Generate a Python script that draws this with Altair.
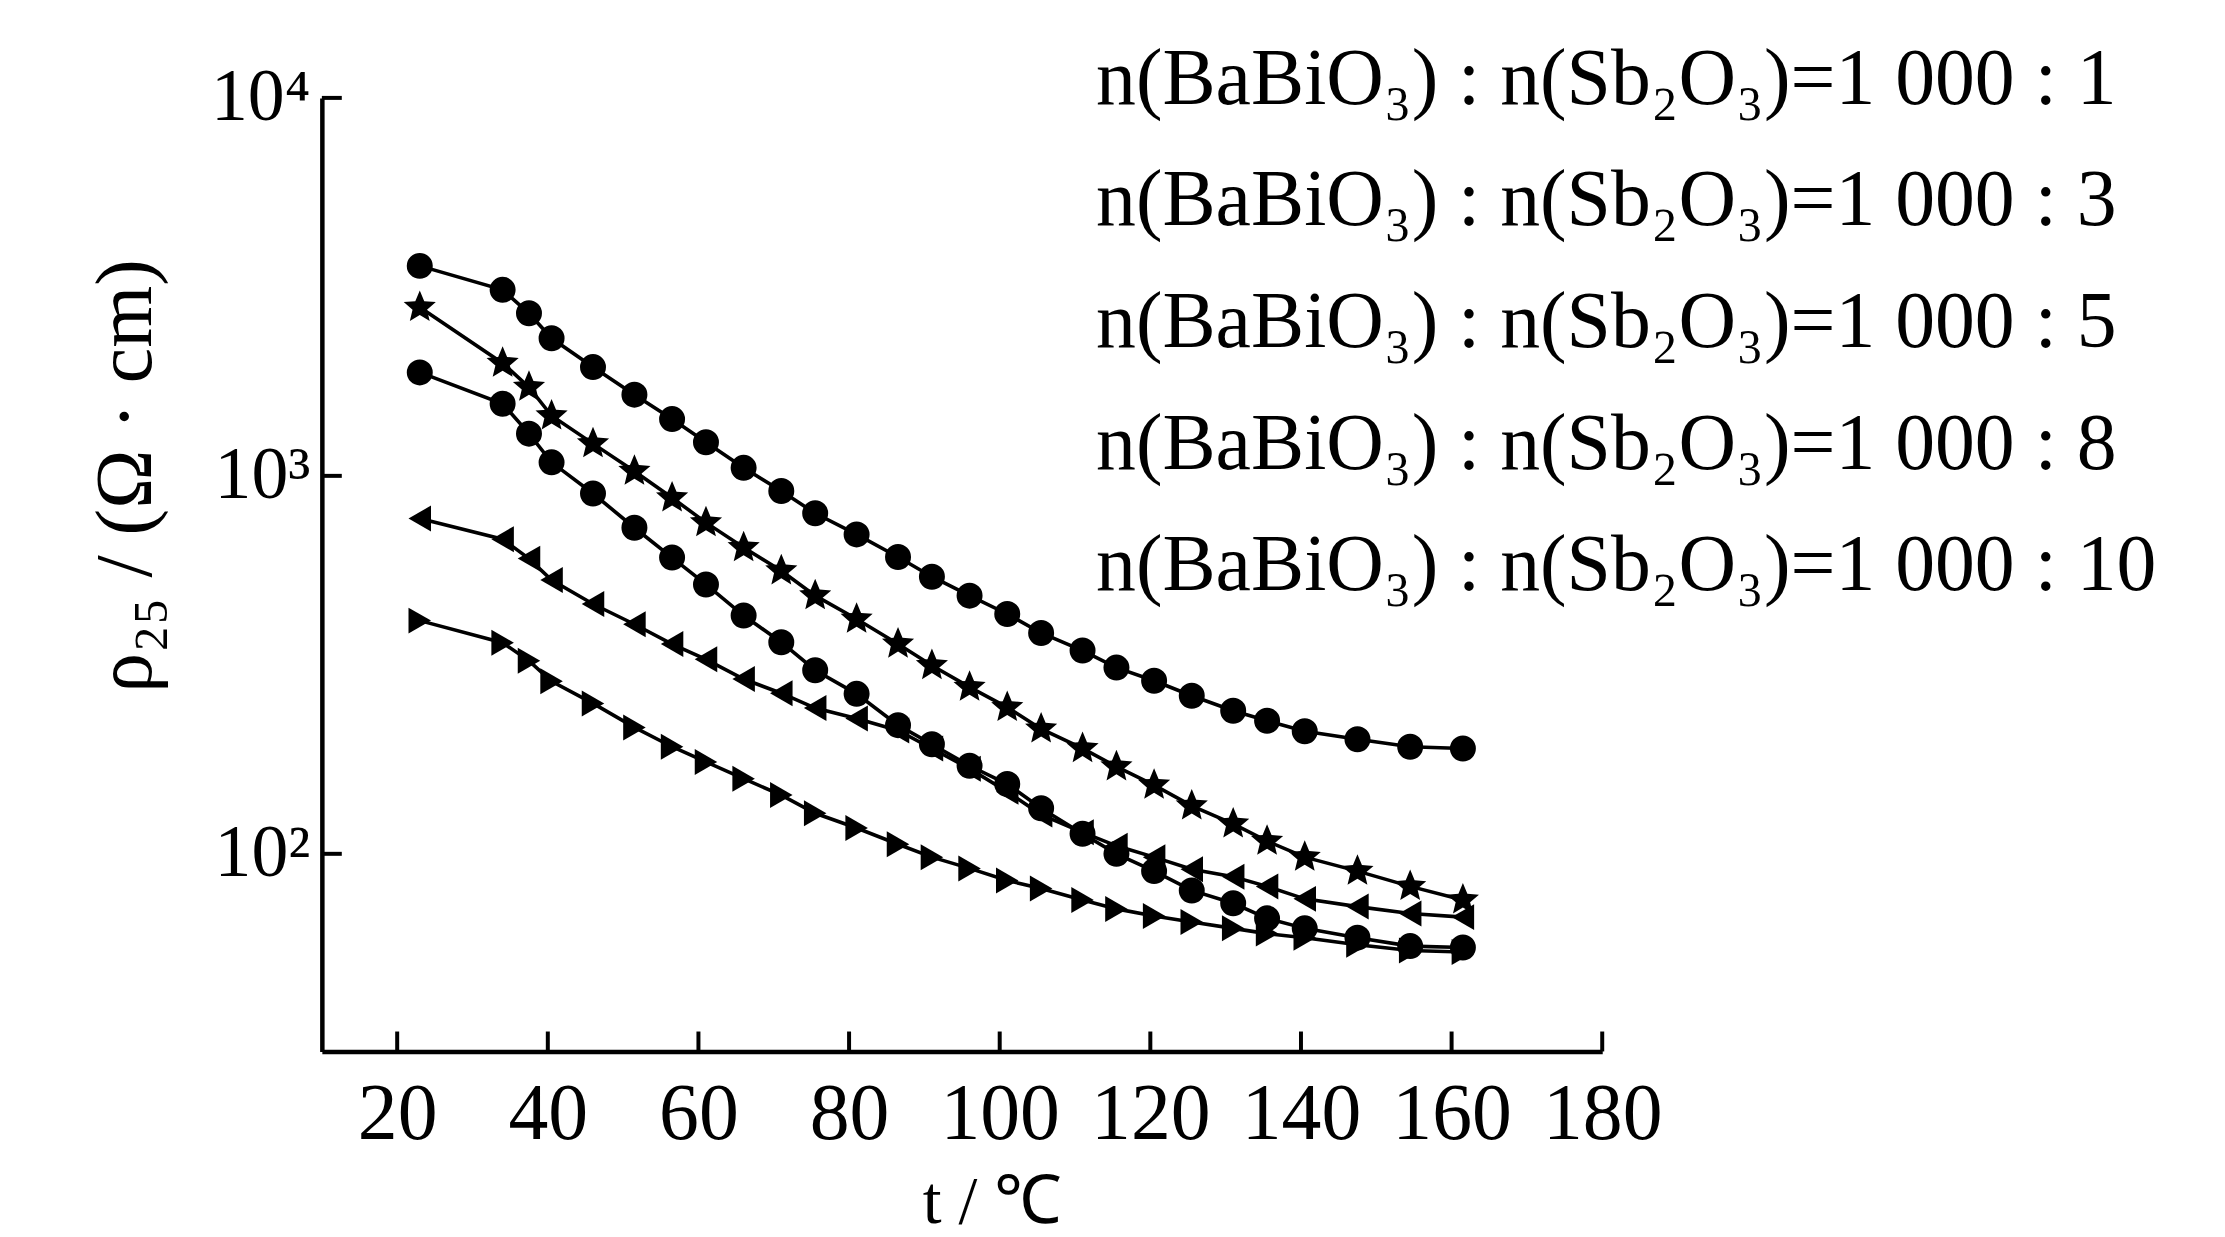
import altair as alt
import pandas as pd

temps = [23, 34, 37.5, 40.5, 46, 51.5, 56.5, 61, 66, 71, 75.5, 81, 86.5, 91, 96,
         101, 105.5, 111, 115.5, 120.5, 125.5, 131, 135.5, 140.5, 147.5, 154.5, 161.5]

labels = [
    "n(BaBiO₃) : n(Sb₂O₃)=1 000 : 1",
    "n(BaBiO₃) : n(Sb₂O₃)=1 000 : 3",
    "n(BaBiO₃) : n(Sb₂O₃)=1 000 : 5",
    "n(BaBiO₃) : n(Sb₂O₃)=1 000 : 8",
    "n(BaBiO₃) : n(Sb₂O₃)=1 000 : 10",
]

rho_1 = [3594, 3106, 2692, 2312, 1940, 1640, 1413, 1227, 1050, 912, 796, 700, 610, 541,
         482, 431, 384, 345, 311, 287, 262, 239, 225, 211, 201, 192, 190]
rho_3 = [2792, 1987, 1717, 1442, 1217, 1029, 875, 752, 646, 561, 482, 418, 359, 315,
         276, 244, 214, 190, 170, 152, 134, 120, 108, 98, 90, 82, 75.5]
rho_5 = [1878, 1552, 1293, 1086, 898, 729, 608, 516, 427, 363, 306, 265, 219, 195,
         171, 153, 132, 113, 100, 90, 80, 74, 67.5, 63.5, 60, 57, 56.5]
rho_8 = [771, 680, 604, 530, 458, 405, 359, 327, 290, 266, 243, 228, 212, 190,
         168, 146, 127, 114, 105, 98, 91, 87, 82, 76, 72.5, 69.5, 68]
rho_10 = [414, 362, 324, 286, 250, 216, 192, 175, 158, 143, 128, 117, 106, 98,
          91.5, 85, 81, 75.5, 71.5, 68.5, 66, 63.5, 61.5, 60, 57.5, 55.5, 55]

series_values = [rho_1, rho_3, rho_5, rho_8, rho_10]

star = ("M0,-1L0.2645,-0.3641L0.9511,-0.309L0.428,0.139L0.5878,0.809L0,0.45"
        "L-0.5878,0.809L-0.428,0.139L-0.9511,-0.309L-0.2645,-0.3641Z")
shapes = ["circle", star, "circle", "triangle-left", "triangle-right"]

x_ticks = [20, 40, 60, 80, 100, 120, 140, 160, 180]
y_ticks = [100, 1000, 10000]

rows = []
for i, (lab, vals) in enumerate(zip(labels, series_values)):
    for t, v in zip(temps, vals):
        rows.append({"t": t, "rho": v, "series": lab, "is_star": i == 1})
df = pd.DataFrame(rows)

FONT = "Liberation Serif"
xscale = alt.Scale(domain=[10, 180], nice=False, zero=False)
yscale = alt.Scale(type="log", domain=[30, 10000], nice=False)
shape_scale = alt.Scale(domain=labels, range=shapes)

xenc = alt.X("t:Q", scale=xscale, axis=alt.Axis(
    values=x_ticks, ticks=False, grid=False, domainWidth=4.5, domainColor="black",
    labelFont=FONT, labelFontSize=80, labelColor="black", labelPadding=24,
    labelFlush=False, labelOverlap=False,
    title="t / ℃", titleFont=FONT, titleFontSize=68, titleFontWeight="normal",
    titleColor="black", titleX=672, titleY=152, titleBaseline="middle"))
yenc = alt.Y("rho:Q", scale=yscale, axis=alt.Axis(
    values=y_ticks, ticks=False, grid=False, domainWidth=4.5, domainColor="black",
    labelFont=FONT, labelFontSize=74, labelColor="black", labelPadding=12,
    labelFlush=False, labelOverlap=False,
    labelExpr="datum.value == 100 ? '10²' : datum.value == 1000 ? '10³' : '10⁴'",
    title="ρ₂₅ / (Ω · cm)", titleFont=FONT, titleFontSize=80, titleFontWeight="normal",
    titleColor="black", titleX=-196, titleY=379, titleAngle=270,
    titleAlign="center", titleBaseline="middle"))

base = alt.Chart(df)

lines = base.mark_line(color="black", strokeWidth=3.6).encode(
    x=xenc, y=yenc, detail="series:N", order="t:Q")

points = base.transform_filter("!datum.is_star").mark_point(
    filled=True, color="black", opacity=1, size=680).encode(
    x="t:Q", y="rho:Q",
    shape=alt.Shape("series:N", scale=shape_scale,
                    legend=alt.Legend(
                        title=None, orient="none", legendX=697, legendY=-58,
                        labelFont=FONT, labelFontSize=80, labelColor="black",
                        labelLimit=2000, symbolOpacity=0, symbolSize=1,
                        symbolStrokeWidth=0, labelOffset=0, rowPadding=42,
                        padding=0, values=labels)))

stars = base.transform_filter("datum.is_star").mark_point(
    filled=True, color="black", opacity=1, size=1150).encode(
    x="t:Q", y="rho:Q", shape=alt.Shape("series:N", scale=shape_scale))

ytick_df = pd.DataFrame({"v": y_ticks})
xtick_df = pd.DataFrame({"v": x_ticks})

yticks = alt.Chart(ytick_df).mark_tick(
    orient="horizontal", size=20, thickness=4, xOffset=10, color="black", opacity=1
).encode(y=alt.Y("v:Q"), x=alt.datum(10))

xticks = alt.Chart(xtick_df).mark_tick(
    orient="vertical", size=20, thickness=4, yOffset=-10, color="black", opacity=1
).encode(x=alt.X("v:Q"), y=alt.datum(30))

chart = alt.layer(lines, points, stars, yticks, xticks).properties(
    width=1285, height=957,
    autosize=alt.AutoSizeParams(type="none"),
    padding={"left": 315, "top": 88, "right": 617, "bottom": 184},
    background="white",
).configure_view(stroke=None)

chart.save("out.html", embed_options={"renderer": "svg", "actions": False})
